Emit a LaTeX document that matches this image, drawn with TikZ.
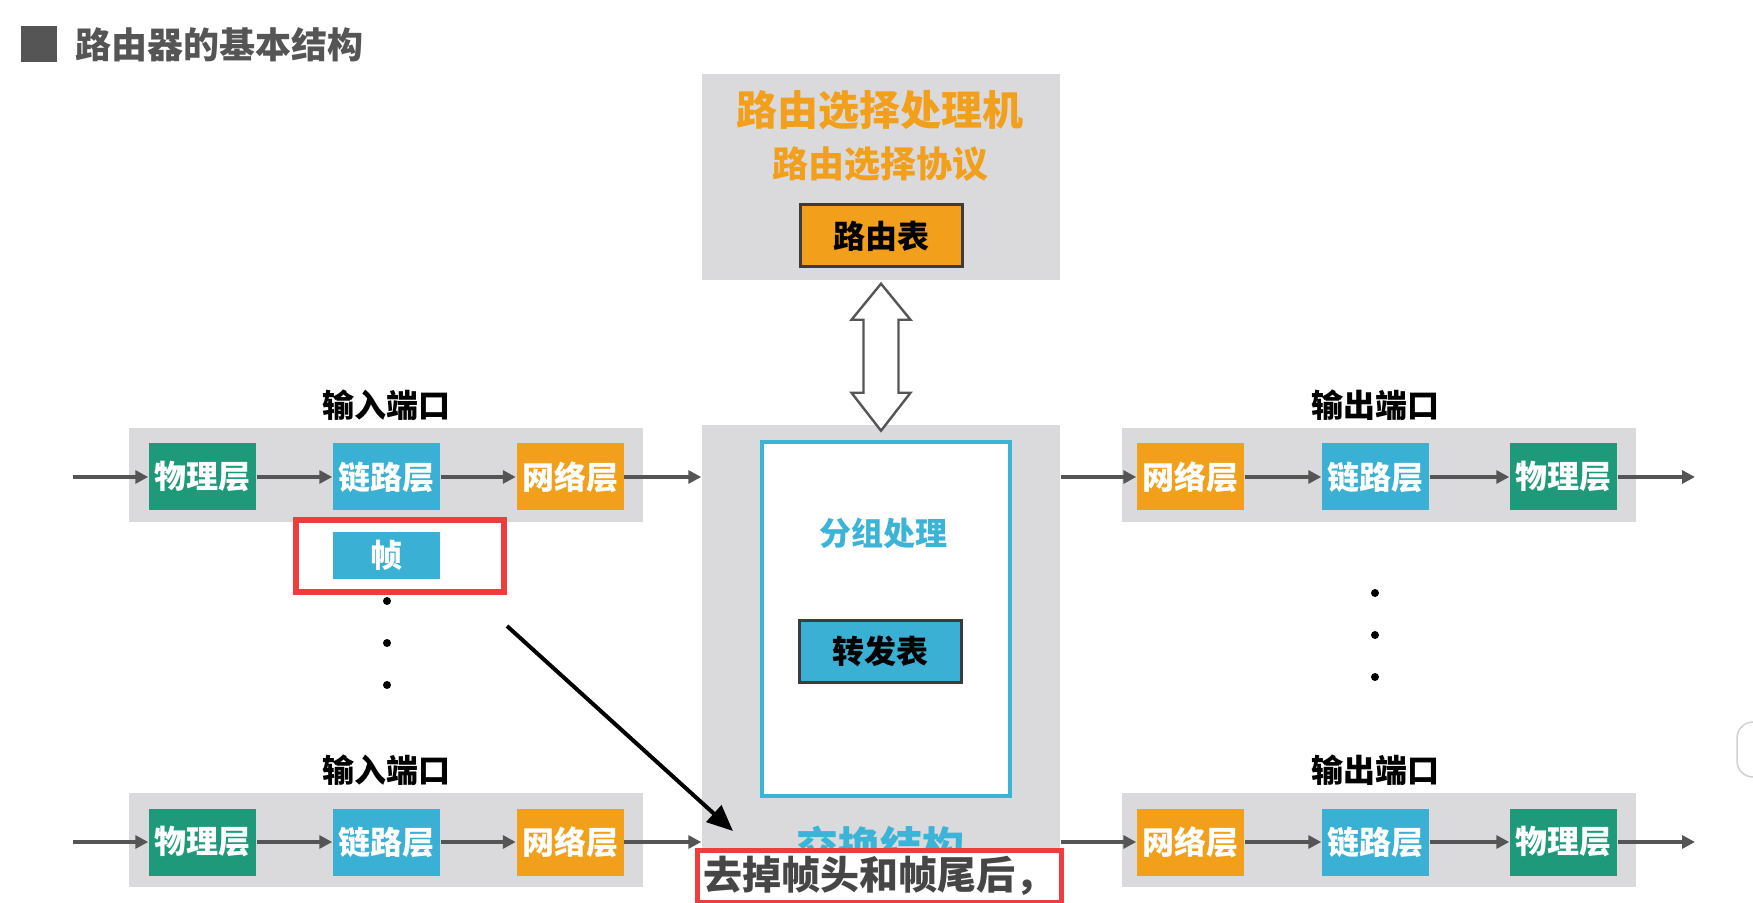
\documentclass[tikz,border=0pt]{standalone}
\usepackage{fontspec}
\newfontfamily\cjk{Noto Sans CJK SC}
\usepackage{tikz}
\usetikzlibrary{calc}
\usetikzlibrary{arrows.meta}
\definecolor{portgray}{RGB}{218,218,220}
\definecolor{phygreen}{RGB}{30,154,122}
\definecolor{lnkblue}{RGB}{57,176,212}
\definecolor{netorange}{RGB}{242,160,28}
\definecolor{arrowgray}{RGB}{85,85,85}
\definecolor{fabcyan}{RGB}{60,180,216}
\definecolor{titlegray}{RGB}{85,85,85}
\definecolor{markred}{RGB}{240,60,60}
\definecolor{tableedge}{RGB}{60,60,60}
\definecolor{subgray}{RGB}{70,70,70}
\tikzset{every picture/.style={line width=0.75pt}}
\tikzset{
  portbg/.style={fill=portgray, minimum width=257pt, minimum height=47pt, inner sep=0pt},
  layer/.style={minimum width=53.5pt, minimum height=33.5pt, inner sep=0pt, text=white, font=\cjk\bfseries\fontsize{16pt}{18pt}\selectfont},
  phy/.style={layer, fill=phygreen},
  lnk/.style={layer, fill=lnkblue},
  net/.style={layer, fill=netorange},
  portlbl/.style={inner sep=0pt, font=\cjk\bfseries\fontsize{16pt}{18pt}\selectfont},
  tablebox/.style={draw=tableedge, line width=1.5pt, minimum width=81pt, minimum height=31pt, inner sep=0pt, font=\cjk\bfseries\fontsize{16pt}{18pt}\selectfont},
  flow/.style={draw=arrowgray, line width=1.8pt, -{Triangle[length=6.5pt,width=6.5pt]}},
  dotb/.style={circle, fill=black, minimum size=4pt, inner sep=0pt},
}

\begin{document}
\begin{tikzpicture}[x=0.5pt,y=0.5pt,yscale=-1,xscale=1]
\path[fill=white] (0,0) rectangle (1753,903);
\useasboundingbox (0,0) rectangle (1753,903);

% Title
\node (tsq) at (39,44) [fill=titlegray, minimum size=18pt, inner sep=0pt] {};
\node (title) at (75,45) [anchor=west, inner sep=0pt, text=titlegray, font=\cjk\bfseries\fontsize{18pt}{20pt}\selectfont] {路由器的基本结构};

%Shape: Routing processor
\node (rp) at (881,177) [fill=portgray, minimum width=179pt, minimum height=103pt, inner sep=0pt] {};
% Text Node
\node (rpname) at (880,110) [text=netorange, inner sep=0pt, font=\cjk\bfseries\fontsize{20.5pt}{22pt}\selectfont] {路由选择处理机};
% Text Node
\node (rpproto) at (880,164) [text=netorange, inner sep=0pt, font=\cjk\bfseries\fontsize{18pt}{20pt}\selectfont] {路由选择协议};
% Routing table
\node (rtab) at (881,236) [tablebox, fill=netorange] {路由表};

%Shape: Switching fabric
\node (sf) at (881,664) [fill=portgray, minimum width=179pt, minimum height=239pt, inner sep=0pt] {};
\node (pp) at (886,619) [draw=fabcyan, line width=2pt, fill=white, minimum width=124pt, minimum height=177pt, inner sep=0pt] {};
% Text Node
\node (ppname) at (883,533) [text=fabcyan, inner sep=0pt, font=\cjk\bfseries\fontsize{16pt}{18pt}\selectfont] {分组处理};
% Forwarding table
\node (ftab) at (880.5,651.5) [tablebox, fill=lnkblue] {转发表};
% Text Node
\node (sfname) at (880,846) [text=fabcyan, inner sep=0pt, font=\cjk\bfseries\fontsize{21pt}{23pt}\selectfont] {交换结构};

%Double arrow between processor and fabric
\draw [draw=arrowgray, line width=1.2pt, fill=white] ($(rp.south)+(0,3)$) -- ++(29.5,36) -- ++(-12,0) -- ++(0,73) -- ++(12,0) -- ++(-29.5,38) -- ++(-29.5,-38) -- ++(12,0) -- ++(0,-73) -- ++(-12,0) -- cycle;

%Input port 1
\node (in1bg) at (386,475) [portbg] {};
\node (in1lbl) at (386,405) [portlbl] {输入端口};
\node (in1phy) at (202.5,477) [phy] {物理层};
\node (in1lnk) at (386.5,477) [lnk] {链路层};
\node (in1net) at (570,477) [net] {网络层};
\coordinate (in1src) at (73,477);
\draw [flow] (in1src) -- (in1phy);
\draw [flow] (in1phy) -- (in1lnk);
\draw [flow] (in1lnk) -- (in1net);
\draw [flow] (in1net) -- (in1net -| sf.west);

%Frame
\node (fmark) at (400,556) [draw=markred, line width=3pt, minimum width=104pt, minimum height=36pt, inner sep=0pt] {};
\node (frame) at (386.5,555.5) [lnk, minimum height=23.5pt] {帧};
\node (ldot1) at (387,601) [dotb] {};
\node (ldot2) at (387,643) [dotb] {};
\node (ldot3) at (387,685) [dotb] {};

%Input port 2
\node (in2bg) at (386,839.5) [portbg] {};
\node (in2lbl) at (386,770) [portlbl] {输入端口};
\node (in2phy) at (202.5,842) [phy] {物理层};
\node (in2lnk) at (386.5,842) [lnk] {链路层};
\node (in2net) at (570,842) [net] {网络层};
\coordinate (in2src) at (73,842);
\draw [flow] (in2src) -- (in2phy);
\draw [flow] (in2phy) -- (in2lnk);
\draw [flow] (in2lnk) -- (in2net);
\draw [flow] (in2net) -- (in2net -| sf.west);

%Output port 1
\node (out1bg) at (1379,475) [portbg] {};
\node (out1lbl) at (1375,405) [portlbl] {输出端口};
\node (out1net) at (1190.5,477) [net] {网络层};
\node (out1lnk) at (1375.5,477) [lnk] {链路层};
\node (out1phy) at (1563.5,477) [phy] {物理层};
\coordinate (out1dst) at (1695,477);
\draw [flow] (sf.east |- out1net) -- (out1net);
\draw [flow] (out1net) -- (out1lnk);
\draw [flow] (out1lnk) -- (out1phy);
\draw [flow] (out1phy) -- (out1dst);

\node (rdot1) at (1375,593) [dotb] {};
\node (rdot2) at (1375,635) [dotb] {};
\node (rdot3) at (1375,677) [dotb] {};

%Output port 2
\node (out2bg) at (1379,839.5) [portbg] {};
\node (out2lbl) at (1375,770) [portlbl] {输出端口};
\node (out2net) at (1190.5,842) [net] {网络层};
\node (out2lnk) at (1375.5,842) [lnk] {链路层};
\node (out2phy) at (1563.5,842) [phy] {物理层};
\coordinate (out2dst) at (1695,842);
\draw [flow] (sf.east |- out2net) -- (out2net);
\draw [flow] (out2net) -- (out2lnk);
\draw [flow] (out2lnk) -- (out2phy);
\draw [flow] (out2phy) -- (out2dst);

%Subtitle box
\node (sub) at (879,876) [draw=markred, line width=2.5pt, fill=white, minimum width=182pt, minimum height=26pt, inner sep=0pt, text=subgray, font=\cjk\bfseries\fontsize{19.5pt}{21pt}\selectfont] {去掉帧头和帧尾后，};

%Pointer from frame to subtitle
\coordinate (ftail) at (507,626);
\coordinate (fhead) at (733,831);
\draw [-{Triangle[length=13pt,width=11pt]}, line width=2pt] (ftail) -- (fhead);

%Side tab at right edge
\draw [draw=black!18, fill=white, rounded corners=8pt] (1737,722) rectangle (1775,777);

\end{tikzpicture}
\end{document}
